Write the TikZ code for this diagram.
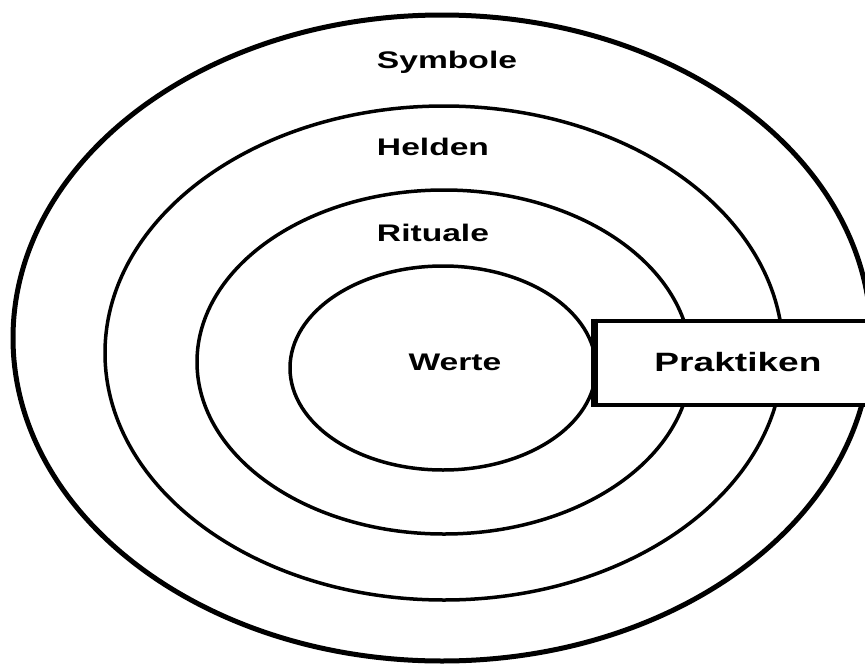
\documentclass[tikz,border=0pt]{standalone}
\usepackage{fontspec}
\newfontfamily\ringfont{Liberation Sans}[FakeStretch=1.4]
\tikzset{
  ring/.style={line width=3.5pt},
  ringlabel/.style={font=\ringfont\bfseries\fontsize{24}{28}\selectfont, inner sep=0pt},
  praxisbox/.style={draw, line width=4pt, fill=white, minimum width=284pt, minimum height=84pt, inner sep=0pt,
    font=\ringfont\bfseries\fontsize{26.5}{30}\selectfont}
}
\begin{document}
\begin{tikzpicture}[x=1pt, y=-1pt]
    \useasboundingbox (0,0) rectangle (865,664);

    % Draw the four layers of the onion
    \draw[ring, line width=5pt] (442,338) ellipse [x radius=429, y radius=323];
    \draw[ring] (444,353) ellipse [x radius=339, y radius=247];
    \draw[ring] (444,362) ellipse [x radius=247, y radius=172];
    \draw[ring] (443,368) ellipse [x radius=153, y radius=102];

    % Layer labels
    \node[ringlabel] (symbole) at (447,62) {Symbole};
    \node[ringlabel] (helden) at (433,147) {Helden};
    \node[ringlabel] (rituale) at (433,233) {Rituale};
    \node[ringlabel] (werte) at (455,362) {Werte};

    % The box cutting through the outer layers
    \node[praxisbox] (praktiken) at (738,362.5) {Praktiken};
    \draw[line width=6.5pt] (praktiken.north west) -- (praktiken.south west);
\end{tikzpicture}
\end{document}
